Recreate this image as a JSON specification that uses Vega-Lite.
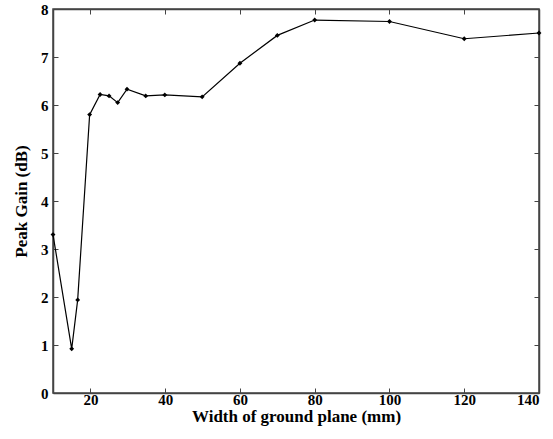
{
  "$schema": "https://vega.github.io/schema/vega-lite/v6.json",
  "width": 486,
  "height": 384,
  "autosize": "none",
  "padding": {"left": 53, "top": 9, "right": 14, "bottom": 46},
  "background": "white",
  "config": {
    "view": {"stroke": "#444", "strokeWidth": 1.5},
    "axis": {
      "labelFont": "Liberation Serif",
      "labelFontWeight": "bold",
      "labelFontSize": 15,
      "labelColor": "black",
      "titleFont": "Liberation Serif",
      "titleFontWeight": "bold",
      "titleFontSize": 17,
      "titleColor": "black",
      "domainColor": "#444",
      "domainWidth": 1.5,
      "tickColor": "#444",
      "tickSize": -5,
      "tickWidth": 1,
      "grid": false
    }
  },
  "data": {
    "values": [
      {"w": 10, "g": 3.3},
      {"w": 15, "g": 0.92},
      {"w": 16.6, "g": 1.94},
      {"w": 19.8, "g": 5.8},
      {"w": 22.6, "g": 6.22},
      {"w": 25, "g": 6.19},
      {"w": 27.3, "g": 6.05},
      {"w": 29.8, "g": 6.33},
      {"w": 34.8, "g": 6.19},
      {"w": 39.9, "g": 6.21},
      {"w": 49.9, "g": 6.17},
      {"w": 60, "g": 6.87},
      {"w": 70, "g": 7.45},
      {"w": 80, "g": 7.77},
      {"w": 100, "g": 7.74},
      {"w": 120, "g": 7.38},
      {"w": 140, "g": 7.5}
    ]
  },
  "layer": [
    {
      "mark": {"type": "line", "color": "black", "strokeWidth": 1.2},
      "encoding": {
        "x": {
          "field": "w", "type": "quantitative",
          "scale": {"domain": [10, 140], "nice": false, "zero": false},
          "axis": {"values": [20, 40, 60, 80, 100, 120, 140], "title": "Width of ground plane (mm)", "labelPadding": 4, "titlePadding": 1}
        },
        "y": {
          "field": "g", "type": "quantitative",
          "scale": {"domain": [0, 8], "nice": false},
          "axis": {"values": [0, 1, 2, 3, 4, 5, 6, 7, 8], "title": "Peak Gain (dB)", "labelPadding": 10, "titlePadding": 10}
        }
      }
    },
    {
      "mark": {"type": "point", "shape": "diamond", "filled": true, "color": "black", "size": 24, "opacity": 1},
      "encoding": {
        "x": {"field": "w", "type": "quantitative", "axis": {"orient": "top", "values": [20, 40, 60, 80, 100, 120, 140], "labels": false, "title": null}},
        "y": {"field": "g", "type": "quantitative", "axis": {"orient": "right", "values": [1, 2, 3, 4, 5, 6, 7], "labels": false, "title": null}}
      }
    }
  ],
  "resolve": {"axis": {"x": "independent", "y": "independent"}}
}
